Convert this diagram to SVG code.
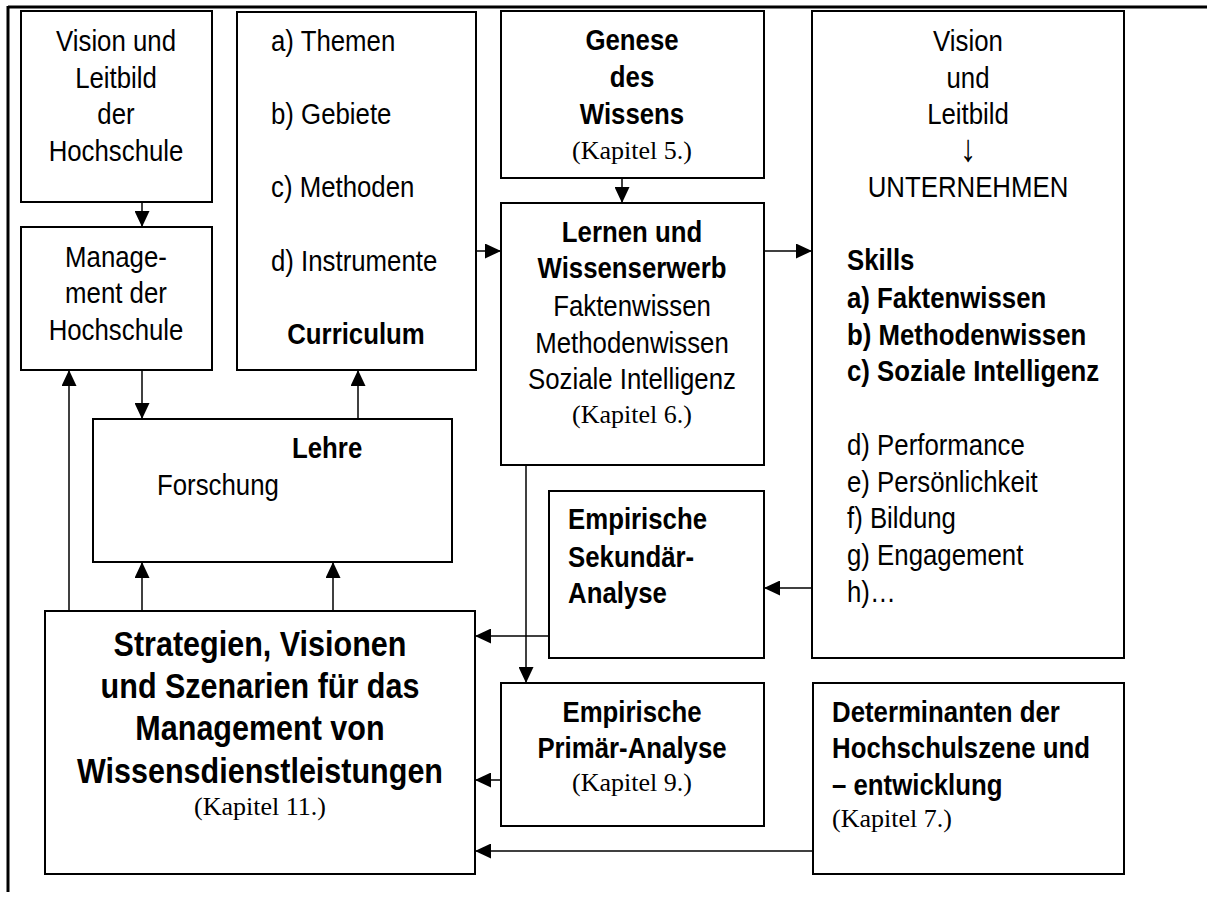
<svg xmlns="http://www.w3.org/2000/svg" width="1207" height="899" viewBox="0 0 1207 899">
<style>
.box{fill:#fff;stroke:#000;stroke-width:2}
.s{font-family:"Liberation Sans",Arial,sans-serif;font-size:30px;fill:#000}
.b{font-weight:bold}
.big{font-size:35.5px;font-weight:bold}
.serif{font-family:"Liberation Serif","Times New Roman",serif;font-size:26px;fill:#000}
.c{text-anchor:middle}
.arr{font-family:"Liberation Sans","DejaVu Sans",sans-serif;font-size:38px;fill:#000;text-anchor:middle}
.frame{stroke:#000;stroke-width:3;fill:none}
.conn line{stroke:#000;stroke-width:1.5;fill:none}
</style>
<defs>
<marker id="ah" markerUnits="userSpaceOnUse" markerWidth="16" markerHeight="15" refX="16" refY="7.5" orient="auto"><path d="M0,0 L16,7.5 L0,15 z" fill="#000"/></marker>
</defs>
<rect width="1207" height="899" fill="#fff"/>
<g id="frame">
<line class="frame" x1="8" y1="7" x2="1207" y2="7"/>
<line class="frame" x1="8" y1="6" x2="8" y2="892"/>
</g>

<g class="conn" id="connectors">
<line x1="142" y1="202" x2="142" y2="227" marker-end="url(#ah)"/>
<line x1="142" y1="370" x2="142" y2="419" marker-end="url(#ah)"/>
<line x1="358" y1="419" x2="358" y2="370" marker-end="url(#ah)"/>
<line x1="476" y1="251" x2="501" y2="251" marker-end="url(#ah)"/>
<line x1="622" y1="178" x2="622" y2="203" marker-end="url(#ah)"/>
<line x1="764" y1="251" x2="812" y2="251" marker-end="url(#ah)"/>
<line x1="812" y1="588" x2="764" y2="588" marker-end="url(#ah)"/>
<line x1="549" y1="636" x2="475" y2="636" marker-end="url(#ah)"/>
<line x1="526" y1="465" x2="526" y2="683" marker-end="url(#ah)"/>
<line x1="501" y1="780" x2="475" y2="780" marker-end="url(#ah)"/>
<line x1="813" y1="851" x2="475" y2="851" marker-end="url(#ah)"/>
<line x1="69" y1="611" x2="69" y2="370" marker-end="url(#ah)"/>
<line x1="142" y1="611" x2="142" y2="562" marker-end="url(#ah)"/>
<line x1="333" y1="611" x2="333" y2="562" marker-end="url(#ah)"/>
</g>

<g id="vision-hochschule">
<rect class="box" x="21" y="11" width="191" height="191"/>
<g transform="translate(116,0) scale(0.86,1)">
<text class="s c" x="0" y="51">Vision und</text>
<text class="s c" x="0" y="88">Leitbild</text>
<text class="s c" x="0" y="124">der</text>
<text class="s c" x="0" y="161">Hochschule</text>
</g>
</g>

<g id="management">
<rect class="box" x="21" y="227" width="191" height="143"/>
<g transform="translate(116,0) scale(0.86,1)">
<text class="s c" x="0" y="267">Manage-</text>
<text class="s c" x="0" y="303">ment der</text>
<text class="s c" x="0" y="340">Hochschule</text>
</g>
</g>

<g id="curriculum">
<rect class="box" x="237" y="12" width="239" height="358"/>
<g transform="translate(271,0) scale(0.86,1)">
<text class="s" x="0" y="51">a) Themen</text>
<text class="s" x="0" y="124">b) Gebiete</text>
<text class="s" x="0" y="197">c) Methoden</text>
<text class="s" x="0" y="271">d) Instrumente</text>
</g>
<g transform="translate(356,0) scale(0.86,1)">
<text class="s b c" x="0" y="344">Curriculum</text>
</g>
</g>

<g id="genese">
<rect class="box" x="501" y="11" width="263" height="167"/>
<g transform="translate(632,0) scale(0.86,1)">
<text class="s b c" x="0" y="50">Genese</text>
<text class="s b c" x="0" y="87">des</text>
<text class="s b c" x="0" y="124">Wissens</text>
</g>
<text class="serif c" x="632" y="159">(Kapitel 5.)</text>
</g>

<g id="lernen">
<rect class="box" x="501" y="203" width="263" height="262"/>
<g transform="translate(632,0) scale(0.86,1)">
<text class="s b c" x="0" y="242">Lernen und</text>
<text class="s b c" x="0" y="278">Wissenserwerb</text>
<text class="s c" x="0" y="316">Faktenwissen</text>
<text class="s c" x="0" y="353">Methodenwissen</text>
<text class="s c" x="0" y="389">Soziale Intelligenz</text>
</g>
<text class="serif c" x="632" y="423">(Kapitel 6.)</text>
</g>

<g id="unternehmen">
<rect class="box" x="812" y="11" width="312" height="647"/>
<g transform="translate(968,0) scale(0.86,1)">
<text class="s c" x="0" y="51">Vision</text>
<text class="s c" x="0" y="88">und</text>
<text class="s c" x="0" y="124">Leitbild</text>
<text class="arr" x="0" y="161">↓</text>
<text class="s c" x="0" y="197">UNTERNEHMEN</text>
</g>
<g transform="translate(847,0) scale(0.86,1)">
<text class="s b" x="0" y="270">Skills</text>
<text class="s b" x="0" y="308">a) Faktenwissen</text>
<text class="s b" x="0" y="345">b) Methodenwissen</text>
<text class="s b" x="0" y="381">c) Soziale Intelligenz</text>
<text class="s" x="0" y="455">d) Performance</text>
<text class="s" x="0" y="492">e) Persönlichkeit</text>
<text class="s" x="0" y="528">f) Bildung</text>
<text class="s" x="0" y="565">g) Engagement</text>
<text class="s" x="0" y="602">h)…</text>
</g>
</g>

<g id="lehre">
<rect class="box" x="93" y="419" width="359" height="143"/>
<g transform="translate(292,0) scale(0.86,1)">
<text class="s b" x="0" y="458">Lehre</text>
</g>
<g transform="translate(157,0) scale(0.86,1)">
<text class="s" x="0" y="495">Forschung</text>
</g>
</g>

<g id="sekundaer">
<rect class="box" x="549" y="491" width="215" height="167"/>
<g transform="translate(568,0) scale(0.86,1)">
<text class="s b" x="0" y="529">Empirische</text>
<text class="s b" x="0" y="567">Sekundär-</text>
<text class="s b" x="0" y="603">Analyse</text>
</g>
</g>

<g id="strategien">
<rect class="box" x="45" y="611" width="430" height="263"/>
<g transform="translate(260,0) scale(0.86,1)">
<text class="s big c" x="0" y="656">Strategien, Visionen</text>
<text class="s big c" x="0" y="698">und Szenarien für das</text>
<text class="s big c" x="0" y="740">Management von</text>
<text class="s big c" x="0" y="783">Wissensdienstleistungen</text>
</g>
<text class="serif c" x="260" y="815">(Kapitel 11.)</text>
</g>

<g id="primaer">
<rect class="box" x="501" y="683" width="263" height="143"/>
<g transform="translate(632,0) scale(0.86,1)">
<text class="s b c" x="0" y="722">Empirische</text>
<text class="s b c" x="0" y="758">Primär-Analyse</text>
</g>
<text class="serif c" x="632" y="791">(Kapitel 9.)</text>
</g>

<g id="determinanten">
<rect class="box" x="813" y="683" width="311" height="191"/>
<g transform="translate(832,0) scale(0.86,1)">
<text class="s b" x="0" y="722">Determinanten der</text>
<text class="s b" x="0" y="758">Hochschulszene und</text>
<text class="s b" x="0" y="795">– entwicklung</text>
</g>
<text class="serif" x="832" y="827">(Kapitel 7.)</text>
</g>
</svg>
